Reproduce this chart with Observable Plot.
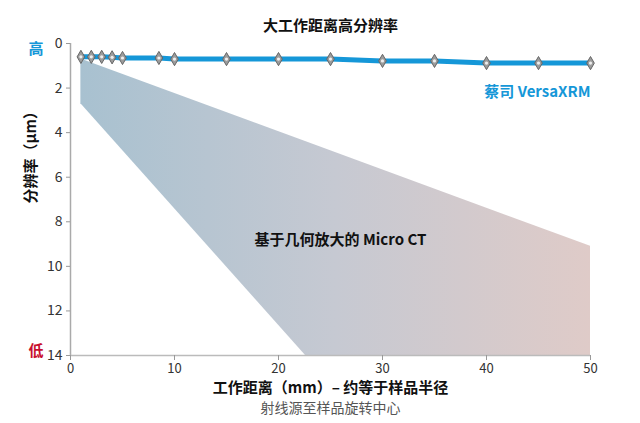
<!DOCTYPE html>
<html><head><meta charset="utf-8">
<script src="https://cdn.jsdelivr.net/npm/d3@7"></script>
<script src="https://cdn.jsdelivr.net/npm/@observablehq/plot@0.6"></script>
<style>body{margin:0;background:#fff}</style>
</head><body><div id="chart"></div>
<script>
// VersaXRM series
const distance = [1, 2, 3, 4, 5, 8.5, 10, 15, 20, 25, 30, 35, 40, 45, 50];
const resolution = [0.6, 0.6, 0.6, 0.62, 0.65, 0.65, 0.7, 0.7, 0.7, 0.7, 0.78, 0.78, 0.88, 0.88, 0.88];
// Micro CT band (geometric magnification)
const microX = [1, 22.6, 50];
const microTop = [0.7, 4.4, 9.1];
const microBottom = [2.7, 14, 14];
const xTicks = [0, 10, 20, 30, 40, 50];
const yTicks = [0, 2, 4, 6, 8, 10, 12, 14];

const versa = distance.map((d, i) => ({x: d, y: resolution[i]}));
const micro = microX.map((d, i) => ({x: d, y1: microTop[i], y2: microBottom[i]}));

const FONT = "'Noto Sans CJK SC', 'Noto Sans', sans-serif";
const BLUE = "#1597d8";

const svg = Plot.plot({
  width: 640,
  height: 423,
  marginLeft: 70,
  marginRight: 50,
  marginTop: 43,
  marginBottom: 68,
  style: {fontFamily: FONT, fontSize: "14px", color: "#333", background: "#fff", overflow: "visible"},
  x: {domain: [0, 50]},
  y: {domain: [0, 14], reverse: true},
  marks: [
    Plot.areaY(micro, {x: "x", y1: "y1", y2: "y2", fill: "url(#microGrad)"}),
    Plot.ruleX([0], {stroke: "#aaa", strokeWidth: 1.5}),
    Plot.ruleY([14], {stroke: "#bbb", strokeWidth: 1.5}),
    Plot.axisY({ticks: yTicks, tickSize: 4, tickPadding: 4, label: null, stroke: "#999", fill: "#333", fontSize: 14}),
    Plot.axisX({ticks: xTicks, tickSize: 5, tickPadding: 3, label: null, stroke: "#999", fill: "#333", fontSize: 13}),
    Plot.line(versa, {x: "x", y: "y", stroke: BLUE, strokeWidth: 5}),
    Plot.dot(versa, {x: "x", y: "y", symbol: "diamond", r: 4, fill: "#9c9c9c", stroke: "#666", strokeWidth: 1}),
    Plot.dot(versa, {x: "x", y: "y", r: 1.6, fill: "#eee"}),
    Plot.text(["大工作距离高分辨率"], {frameAnchor: "top", dy: -23, fontWeight: "bold", fontSize: 15, fill: "#111"}),
    Plot.text(["高"], {frameAnchor: "top-left", dx: -42, fontWeight: "bold", fontSize: 15, fill: BLUE}),
    Plot.text(["低"], {frameAnchor: "bottom-left", dx: -42, fontWeight: "bold", fontSize: 15, fill: "#c8102e"}),
    Plot.text(["分辨率（μm）"], {frameAnchor: "left", dx: -39, dy: 4, rotate: -90, fontWeight: "bold", fontSize: 15, fill: "#111"}),
    Plot.text(["工作距离（mm）– 约等于样品半径"], {frameAnchor: "bottom", dy: 37, fontWeight: "bold", fontSize: 15, fill: "#111"}),
    Plot.text(["射线源至样品旋转中心"], {frameAnchor: "bottom", dy: 57, fontSize: 14, fill: "#555"}),
    Plot.text(["蔡司 VersaXRM"], {frameAnchor: "top-right", dy: 43, textAnchor: "end", fontWeight: "bold", fontSize: 15, fill: BLUE}),
    Plot.text(["基于几何放大的 Micro CT"], {frameAnchor: "middle", dx: 10, dy: 41, fontWeight: "bold", fontSize: 15, fill: "#111"})
  ]
});

const ns = "http://www.w3.org/2000/svg";
const defs = document.createElementNS(ns, "defs");
defs.innerHTML = `<linearGradient id="microGrad" x1="0" x2="1" y1="0" y2="0">
  <stop offset="0" stop-color="#a8c1d0"/>
  <stop offset="0.5" stop-color="#c6c9d2"/>
  <stop offset="1" stop-color="#dfcbc8"/>
</linearGradient>`;
svg.insertBefore(defs, svg.firstChild);
document.getElementById("chart").appendChild(svg);
</script>
</body></html>
